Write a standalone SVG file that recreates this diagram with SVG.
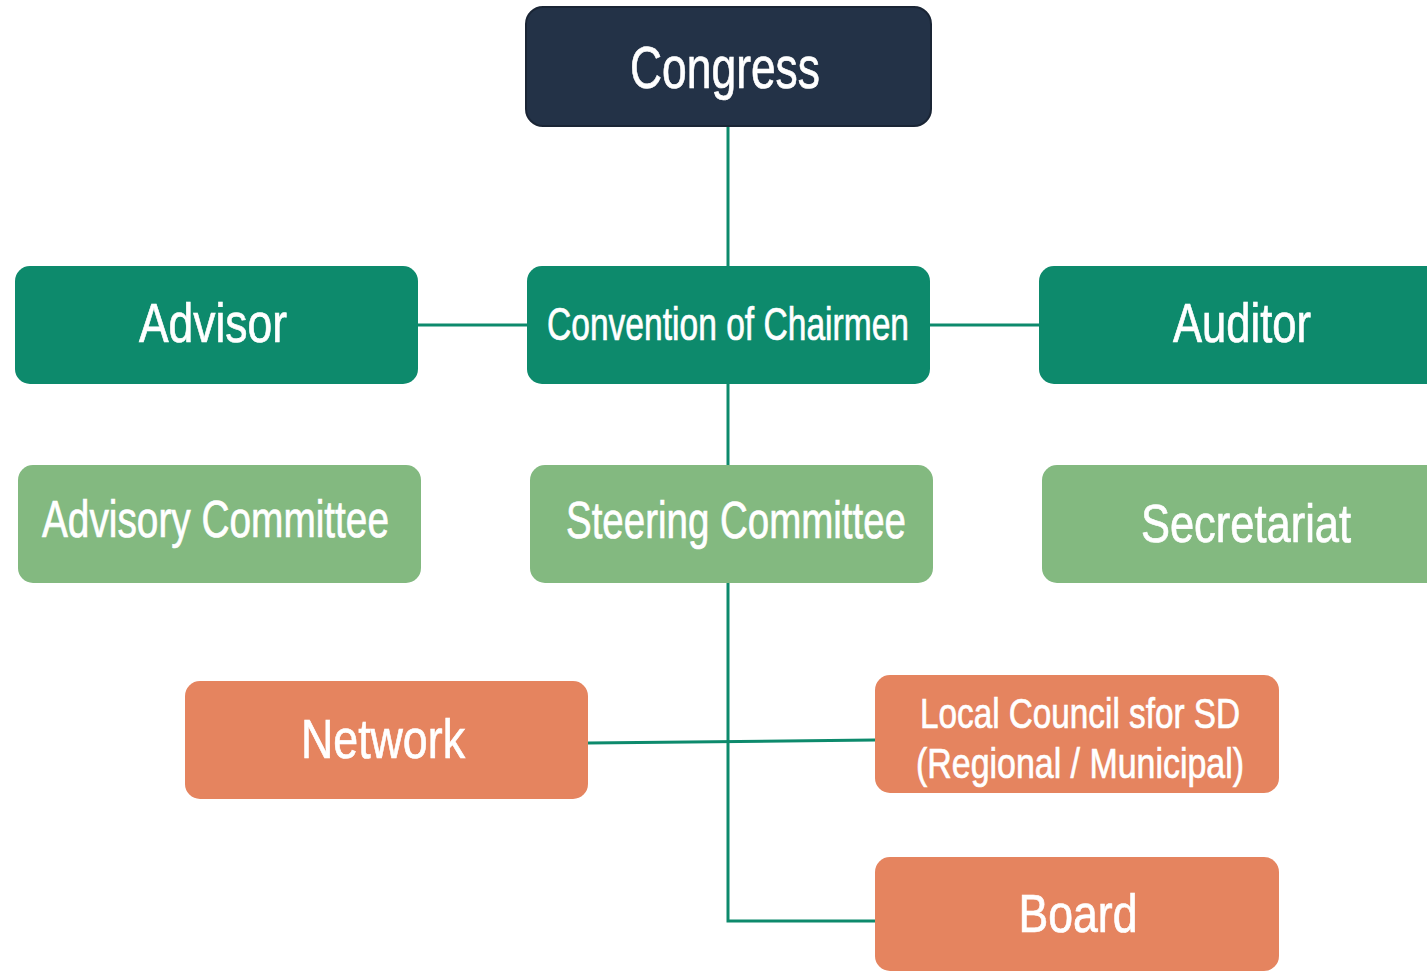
<svg xmlns="http://www.w3.org/2000/svg" width="1427" height="971" viewBox="0 0 1427 971">
<style>
text{font-family:"Liberation Sans",Arial,sans-serif;fill:#ffffff;stroke:#ffffff;stroke-width:0.7;text-anchor:middle;}
.dark{fill:#233247;stroke:#1a2535;stroke-width:2;}
.teal{fill:#0d8a6c;}
.lg{fill:#83b980;}
.or{fill:#e5845f;}
.c{stroke:#0d8a6c;stroke-width:3;fill:none;}
</style>
<rect width="1427" height="971" fill="#ffffff"/>
<g id="connectors">
<line class="c" x1="728" y1="126" x2="728" y2="266"/>
<line class="c" x1="418" y1="325" x2="527" y2="325"/>
<line class="c" x1="930" y1="325" x2="1039" y2="325"/>
<line class="c" x1="728" y1="384" x2="728" y2="465"/>
<polyline class="c" points="728,583 728,921 875,921"/>
<line class="c" x1="588" y1="743" x2="875" y2="740"/>
</g>
<g id="congress">
<rect class="dark" x="526" y="7" width="405" height="119" rx="17"/>
<text x="725" y="88" font-size="60" textLength="190" lengthAdjust="spacingAndGlyphs">Congress</text>
</g>
<g id="advisor">
<rect class="teal" x="15" y="266" width="403" height="118" rx="15"/>
<text x="213" y="342" font-size="56" textLength="148" lengthAdjust="spacingAndGlyphs">Advisor</text>
</g>
<g id="convention">
<rect class="teal" x="527" y="266" width="403" height="118" rx="15"/>
<text x="728" y="340" font-size="46" textLength="362" lengthAdjust="spacingAndGlyphs">Convention of Chairmen</text>
</g>
<g id="auditor">
<rect class="teal" x="1039" y="266" width="403" height="118" rx="15"/>
<text x="1242" y="342" font-size="56" textLength="138" lengthAdjust="spacingAndGlyphs">Auditor</text>
</g>
<g id="advisory-committee">
<rect class="lg" x="18" y="465" width="403" height="118" rx="15"/>
<text x="215.5" y="537" font-size="52" textLength="347" lengthAdjust="spacingAndGlyphs">Advisory Committee</text>
</g>
<g id="steering-committee">
<rect class="lg" x="530" y="465" width="403" height="118" rx="15"/>
<text x="736" y="538" font-size="52" textLength="340" lengthAdjust="spacingAndGlyphs">Steering Committee</text>
</g>
<g id="secretariat">
<rect class="lg" x="1042" y="465" width="403" height="118" rx="15"/>
<text x="1246" y="542" font-size="54" textLength="210" lengthAdjust="spacingAndGlyphs">Secretariat</text>
</g>
<g id="network">
<rect class="or" x="185" y="681" width="403" height="118" rx="15"/>
<text x="383" y="758" font-size="56" textLength="164" lengthAdjust="spacingAndGlyphs">Network</text>
</g>
<g id="local-council">
<rect class="or" x="875" y="675" width="404" height="118" rx="15"/>
<text x="1080" y="728" font-size="43" textLength="320" lengthAdjust="spacingAndGlyphs">Local Council sfor SD</text>
<text x="1080" y="778" font-size="43" textLength="328" lengthAdjust="spacingAndGlyphs">(Regional / Municipal)</text>
</g>
<g id="board">
<rect class="or" x="875" y="857" width="404" height="114" rx="15"/>
<text x="1078" y="932" font-size="54" textLength="119" lengthAdjust="spacingAndGlyphs">Board</text>
</g>
</svg>
